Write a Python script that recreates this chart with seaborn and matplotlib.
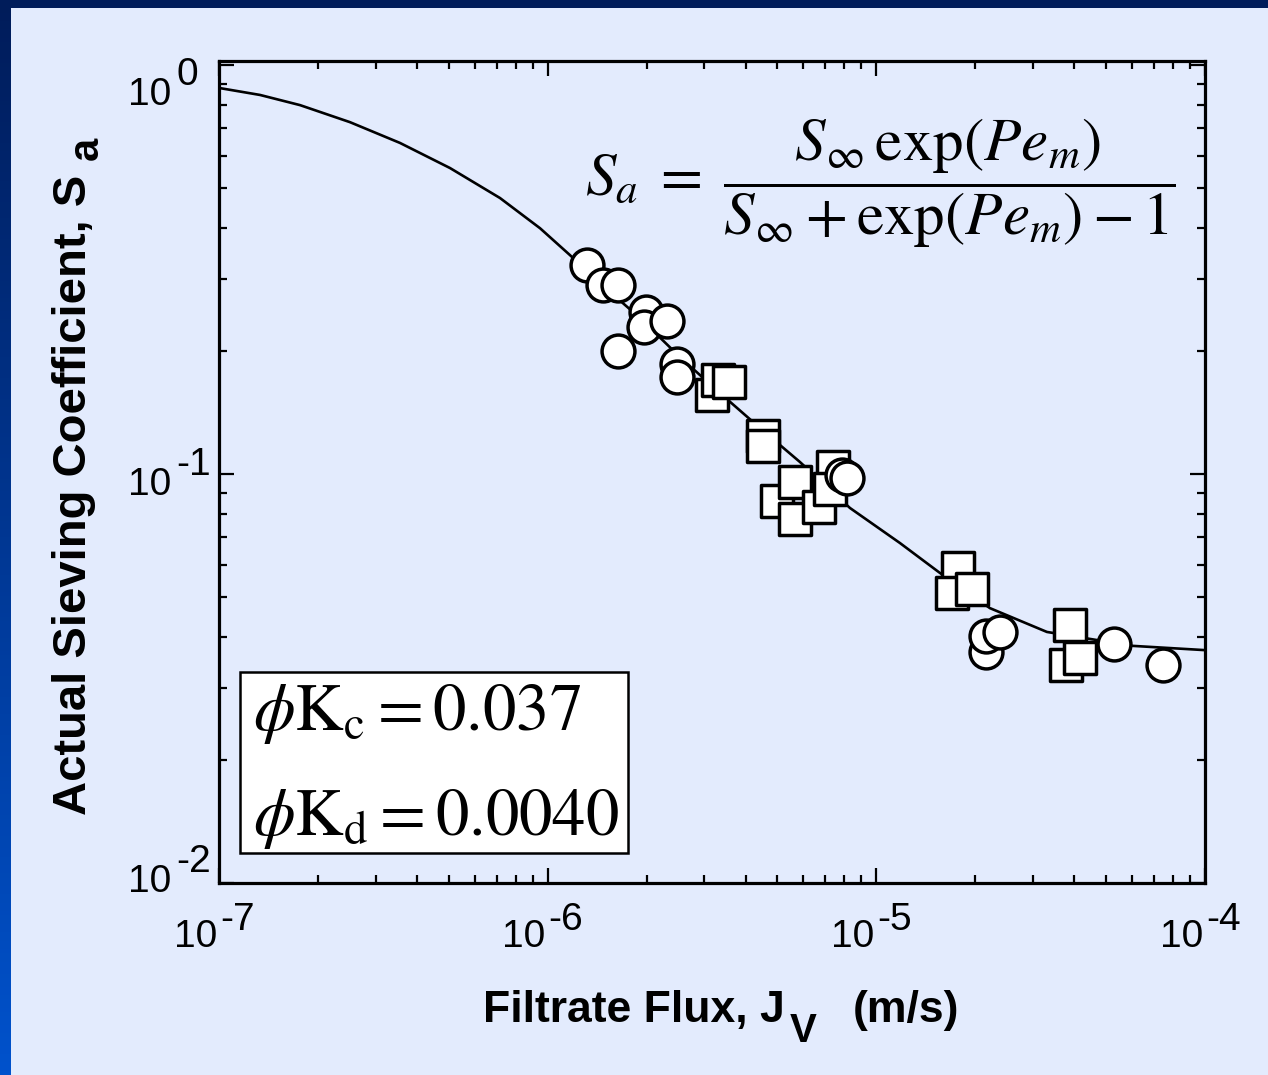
import numpy as np
import matplotlib
matplotlib.use("Agg")
import matplotlib.pyplot as plt
import seaborn as sns
from matplotlib.colors import LinearSegmentedColormap
from matplotlib.patches import Rectangle
from matplotlib.ticker import LogLocator, NullFormatter

# fitted model curve
curve_jv = [1.0e-7, 1.333e-7, 1.764e-7, 2.503e-7, 3.553e-7, 5.044e-7, 7.16e-7,
            9.48e-7, 1.169e-6, 1.443e-6, 1.909e-6, 2.526e-6, 3.343e-6, 4.424e-6,
            5.855e-6, 8.313e-6, 1.180e-5, 1.561e-5, 2.216e-5, 3.304e-5, 6.036e-5, 1.0e-4]
curve_sa = [0.879, 0.845, 0.798, 0.725, 0.645, 0.560, 0.473,
            0.399, 0.343, 0.293, 0.2406, 0.1932, 0.1578, 0.1296,
            0.1070, 0.0826, 0.0678, 0.0573, 0.0470, 0.0411, 0.0380, 0.0371]

# open squares
sq_jv = [3.162e-6, 3.297e-6, 3.561e-6, 4.519e-6, 4.519e-6, 4.984e-6, 5.655e-6,
         5.655e-6, 6.69e-6, 7.38e-6, 7.23e-6, 1.772e-5, 1.698e-5, 1.954e-5,
         3.882e-5, 3.775e-5, 4.163e-5]
sq_sa = [0.1560, 0.1697, 0.1678, 0.1239, 0.1171, 0.0859, 0.0956,
         0.0776, 0.0830, 0.1040, 0.0919, 0.0589, 0.0512, 0.0523,
         0.0427, 0.0341, 0.0355]

# open circles
circ_jv = [1.317e-6, 1.473e-6, 1.636e-6, 1.991e-6, 1.963e-6, 2.307e-6, 1.636e-6,
           2.474e-6, 2.474e-6, 7.86e-6, 8.14e-6, 2.155e-5, 2.155e-5, 2.377e-5,
           5.284e-5, 7.447e-5]
circ_sa = [0.3243, 0.290, 0.290, 0.2489, 0.2288, 0.2366, 0.1998,
           0.1858, 0.1726, 0.0994, 0.0978, 0.0367, 0.0402, 0.0411,
           0.0384, 0.0341]

x_ticks = [1e-7, 1e-6, 1e-5, 1e-4]
x_exps = ["-7", "-6", "-5", "-4"]
y_ticks = [1e-2, 1e-1, 1e0]
y_exps = ["-2", "-1", "0"]

BG = "#E3EBFD"
NAVY = "#001C5A"

sns.set_theme(style="ticks")
plt.rcParams["font.family"] = ["Liberation Sans", "DejaVu Sans"]
plt.rcParams["mathtext.fontset"] = "stix"
plt.rcParams["text.color"] = "black"

W, H = 1268, 1075
PT = 0.72  # points per pixel at dpi 100


def fx(px):
    return px / W


def fy(py):
    return 1 - py / H


fig = plt.figure(figsize=(W / 100, H / 100), dpi=100, facecolor=BG)

# slide frame: dark band on top, gradient band on the left
bax = fig.add_axes([0, 0, fx(11), 1])
bax.imshow(np.linspace(0, 1, 256)[:, None], aspect="auto",
           cmap=LinearSegmentedColormap.from_list("edge", [NAVY, "#0052CC"]))
bax.axis("off")
fig.add_artist(Rectangle((0, fy(8)), 1, 8 / H, transform=fig.transFigure,
                         color=NAVY, lw=0))

ax = fig.add_axes([fx(219), fy(883), (1205 - 219) / W, (883 - 61) / H])
ax.set_facecolor(BG)
ax.set_xscale("log")
ax.set_yscale("log")

sns.lineplot(x=curve_jv, y=curve_sa, ax=ax, color="black", linewidth=1.9,
             sort=False, estimator=None, zorder=2)
sns.scatterplot(x=sq_jv, y=sq_sa, ax=ax, marker="s", s=560, color="white",
                edgecolor="black", linewidth=2.5, zorder=3)
sns.scatterplot(x=circ_jv, y=circ_sa, ax=ax, marker="o", s=560, color="white",
                edgecolor="black", linewidth=2.5, zorder=4)

ax.set_xlim(1e-7, 1e-4)
ax.set_ylim(1e-2, 1.023)
ax.set_xlabel("")
ax.set_ylabel("")

for sp in ax.spines.values():
    sp.set_linewidth(2.3)
    sp.set_color("black")

ax.xaxis.set_major_locator(LogLocator(base=10, numticks=10))
ax.yaxis.set_major_locator(LogLocator(base=10, numticks=10))
ax.xaxis.set_minor_locator(LogLocator(base=10, subs=np.arange(2, 10), numticks=40))
ax.yaxis.set_minor_locator(LogLocator(base=10, subs=np.arange(2, 10), numticks=40))
ax.xaxis.set_minor_formatter(NullFormatter())
ax.yaxis.set_minor_formatter(NullFormatter())
ax.tick_params(which="both", direction="in", top=True, right=True,
               labelbottom=False, labelleft=False, color="black")
ax.tick_params(which="major", length=10.5, width=1.6)
ax.tick_params(which="minor", length=6, width=1.6)

# decade labels with full-size exponents
xt = ax.get_xaxis_transform()
for v, e in zip(x_ticks, x_exps):
    ax.annotate("10", xy=(v, 0), xycoords=xt, xytext=(-2 * PT, -64 * PT),
                textcoords="offset points", ha="right", va="baseline",
                fontsize=28, annotation_clip=False)
    ax.annotate(e, xy=(v, 0), xycoords=xt, xytext=(1 * PT, -47 * PT),
                textcoords="offset points", ha="left", va="baseline",
                fontsize=28, annotation_clip=False)

yt = ax.get_yaxis_transform()
y_nudge = [9, 21, 40]
for v, e, n in zip(y_ticks, y_exps, y_nudge):
    ax.annotate("10", xy=(0, v), xycoords=yt, xytext=(-48 * PT, -n * PT),
                textcoords="offset points", ha="right", va="baseline",
                fontsize=28, annotation_clip=False)
    ax.annotate(e, xy=(0, v), xycoords=yt, xytext=(-43 * PT, -(n - 20) * PT),
                textcoords="offset points", ha="left", va="baseline",
                fontsize=28, annotation_clip=False)

# axis titles
fig.text(fx(483), fy(1022), "Filtrate Flux, J", fontsize=32, weight="bold",
         ha="left", va="baseline")
fig.text(fx(790), fy(1042), "V", fontsize=29, weight="bold",
         ha="left", va="baseline")
fig.text(fx(853), fy(1022), "(m/s)", fontsize=32, weight="bold",
         ha="left", va="baseline")

fig.text(fx(86), fy(815), "Actual Sieving Coefficient, S", fontsize=34,
         weight="bold", rotation=90, rotation_mode="anchor",
         ha="left", va="baseline")
fig.text(fx(98), fy(160), "a", fontsize=30, weight="bold", rotation=90,
         rotation_mode="anchor", ha="left", va="baseline")

# model equation
fig.text(fx(880), fy(183),
         r"$S_a\;=\;\dfrac{S_\infty\,\mathrm{exp}\left(Pe_m\right)}"
         r"{S_\infty + \mathrm{exp}\left(Pe_m\right) - 1}$",
         fontsize=44, ha="center", va="center")

# parameter box
ax.add_patch(Rectangle((0.0213, 0.0365), 0.3935, 0.2202, transform=ax.transAxes,
                       facecolor="white", edgecolor="black", lw=1.8, zorder=5))
ax.text(0.0345, 0.186, r"$\phi\mathrm{K}_\mathrm{c} = 0.037$", fontsize=48,
        transform=ax.transAxes, va="baseline", ha="left", zorder=6)
ax.text(0.0345, 0.0584, r"$\phi\mathrm{K}_\mathrm{d} = 0.0040$", fontsize=48,
        transform=ax.transAxes, va="baseline", ha="left", zorder=6)

fig.savefig("out.png", dpi=100, facecolor=BG)
